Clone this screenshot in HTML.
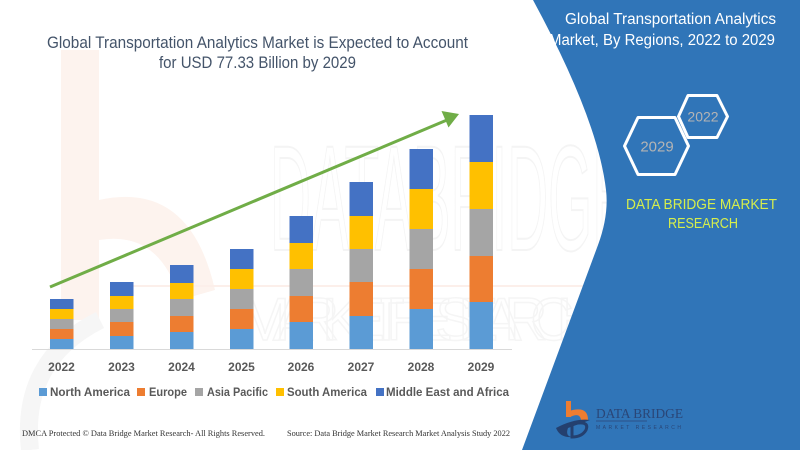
<!DOCTYPE html>
<html>
<head>
<meta charset="utf-8">
<style>
html,body{margin:0;padding:0;background:#fff;}
svg{display:block;}
</style>
</head>
<body>
<svg width="800" height="450" viewBox="0 0 800 450" xmlns="http://www.w3.org/2000/svg">
  <rect x="0" y="0" width="800" height="450" fill="#ffffff"/>

  <!-- faint watermark -->
  <g>
    <rect x="61" y="50" width="38" height="270" fill="#fdf3ee"/>
    <path d="M99,200 Q190,180 215,290 L180,300 Q160,230 99,240 Z" fill="#fdf3ee"/>
    <path d="M30,450 Q20,360 100,320" fill="none" stroke="#f6f6f6" stroke-width="18"/>
    <text x="270" y="250" font-family="Liberation Sans, sans-serif" font-size="150" fill="none" stroke="#f4f4f4" stroke-width="2" textLength="360" lengthAdjust="spacingAndGlyphs">DATABRIDGE</text>
    <line x1="120" y1="286" x2="600" y2="286" stroke="#fcefea" stroke-width="2"/>
    <text x="240" y="340" font-family="Liberation Sans, sans-serif" font-size="60" fill="none" stroke="#f5f5f5" stroke-width="1.5" textLength="360" lengthAdjust="spacing">MARKET RESEARCH</text>
  </g>

  <!-- right blue panel -->
  <path d="M533,0 Q598,120 606,190 Q609,215 598,245 L522,450 L800,450 L800,0 Z" fill="#3075B8"/>

  <!-- title -->
  <g font-family="Liberation Sans, sans-serif" fill="#44546A" font-size="16.5">
    <text x="47" y="48" textLength="421" lengthAdjust="spacingAndGlyphs">Global Transportation Analytics Market is Expected to Account</text>
    <text x="159" y="68" textLength="197" lengthAdjust="spacingAndGlyphs">for USD 77.33 Billion by 2029</text>
  </g>

  <!-- axis line -->
  <line x1="32" y1="349.5" x2="512" y2="349.5" stroke="#D9D9D9" stroke-width="1"/>

  <!-- bars -->
  <g>
    <rect x="50" y="339" width="23.5" height="10" fill="#5B9BD5"/>
    <rect x="50" y="329" width="23.5" height="10" fill="#ED7D31"/>
    <rect x="50" y="319" width="23.5" height="10" fill="#A5A5A5"/>
    <rect x="50" y="309" width="23.5" height="10" fill="#FFC000"/>
    <rect x="50" y="299" width="23.5" height="10" fill="#4472C4"/>
    <rect x="110" y="336" width="23.5" height="13" fill="#5B9BD5"/>
    <rect x="110" y="322" width="23.5" height="14" fill="#ED7D31"/>
    <rect x="110" y="309" width="23.5" height="13" fill="#A5A5A5"/>
    <rect x="110" y="296" width="23.5" height="13" fill="#FFC000"/>
    <rect x="110" y="282" width="23.5" height="14" fill="#4472C4"/>
    <rect x="170" y="332" width="23.5" height="17" fill="#5B9BD5"/>
    <rect x="170" y="316" width="23.5" height="16" fill="#ED7D31"/>
    <rect x="170" y="299" width="23.5" height="17" fill="#A5A5A5"/>
    <rect x="170" y="283" width="23.5" height="16" fill="#FFC000"/>
    <rect x="170" y="265" width="23.5" height="18" fill="#4472C4"/>
    <rect x="230" y="329" width="23.5" height="20" fill="#5B9BD5"/>
    <rect x="230" y="309" width="23.5" height="20" fill="#ED7D31"/>
    <rect x="230" y="289" width="23.5" height="20" fill="#A5A5A5"/>
    <rect x="230" y="269" width="23.5" height="20" fill="#FFC000"/>
    <rect x="230" y="249" width="23.5" height="20" fill="#4472C4"/>
    <rect x="289.5" y="322" width="23.5" height="27" fill="#5B9BD5"/>
    <rect x="289.5" y="296" width="23.5" height="26" fill="#ED7D31"/>
    <rect x="289.5" y="269" width="23.5" height="27" fill="#A5A5A5"/>
    <rect x="289.5" y="243" width="23.5" height="26" fill="#FFC000"/>
    <rect x="289.5" y="216" width="23.5" height="27" fill="#4472C4"/>
    <rect x="349.5" y="316" width="23.5" height="33" fill="#5B9BD5"/>
    <rect x="349.5" y="282" width="23.5" height="34" fill="#ED7D31"/>
    <rect x="349.5" y="249" width="23.5" height="33" fill="#A5A5A5"/>
    <rect x="349.5" y="216" width="23.5" height="33" fill="#FFC000"/>
    <rect x="349.5" y="182" width="23.5" height="34" fill="#4472C4"/>
    <rect x="409.5" y="309" width="23.5" height="40" fill="#5B9BD5"/>
    <rect x="409.5" y="269" width="23.5" height="40" fill="#ED7D31"/>
    <rect x="409.5" y="229" width="23.5" height="40" fill="#A5A5A5"/>
    <rect x="409.5" y="189" width="23.5" height="40" fill="#FFC000"/>
    <rect x="409.5" y="149" width="23.5" height="40" fill="#4472C4"/>
    <rect x="469.5" y="302" width="23.5" height="47" fill="#5B9BD5"/>
    <rect x="469.5" y="256" width="23.5" height="46" fill="#ED7D31"/>
    <rect x="469.5" y="209" width="23.5" height="47" fill="#A5A5A5"/>
    <rect x="469.5" y="162" width="23.5" height="47" fill="#FFC000"/>
    <rect x="469.5" y="115" width="23.5" height="47" fill="#4472C4"/>
  </g>

  <!-- arrow -->
  <line x1="50" y1="287" x2="447" y2="120" stroke="#70AD47" stroke-width="3"/>
  <polygon points="459,114 448.5,127.5 441.5,111" fill="#70AD47"/>

  <!-- year labels -->
  <g font-family="Liberation Sans, sans-serif" font-weight="bold" font-size="12" fill="#595959" text-anchor="middle">
    <text x="61.5" y="371">2022</text>
    <text x="121.5" y="371">2023</text>
    <text x="181.5" y="371">2024</text>
    <text x="241.5" y="371">2025</text>
    <text x="301" y="371">2026</text>
    <text x="361" y="371">2027</text>
    <text x="421" y="371">2028</text>
    <text x="481" y="371">2029</text>
  </g>

  <!-- legend -->
  <g font-family="Liberation Sans, sans-serif" font-weight="bold" font-size="12" fill="#595959">
    <rect x="39" y="388" width="8" height="8" fill="#5B9BD5"/>
    <text x="50" y="396" textLength="80" lengthAdjust="spacingAndGlyphs">North America</text>
    <rect x="137" y="388" width="8" height="8" fill="#ED7D31"/>
    <text x="149" y="396" textLength="38" lengthAdjust="spacingAndGlyphs">Europe</text>
    <rect x="195" y="388" width="8" height="8" fill="#A5A5A5"/>
    <text x="207" y="396" textLength="61" lengthAdjust="spacingAndGlyphs">Asia Pacific</text>
    <rect x="276" y="388" width="8" height="8" fill="#FFC000"/>
    <text x="287" y="396" textLength="80" lengthAdjust="spacingAndGlyphs">South America</text>
    <rect x="376" y="388" width="8" height="8" fill="#4472C4"/>
    <text x="386" y="396" textLength="123" lengthAdjust="spacingAndGlyphs">Middle East and Africa</text>
  </g>

  <!-- footer -->
  <g font-family="Liberation Serif, serif" font-size="8.5" fill="#333333">
    <text x="22" y="436" textLength="243" lengthAdjust="spacingAndGlyphs">DMCA Protected © Data Bridge Market Research- All Rights Reserved.</text>
    <text x="287" y="436" textLength="223" lengthAdjust="spacingAndGlyphs">Source: Data Bridge Market Research Market Analysis Study 2022</text>
  </g>

  <!-- panel texts -->
  <g font-family="Liberation Sans, sans-serif" fill="#ffffff" font-size="15.5">
    <text x="565" y="24" textLength="211" lengthAdjust="spacingAndGlyphs">Global Transportation Analytics</text>
    <text x="549" y="45" textLength="226" lengthAdjust="spacingAndGlyphs">Market, By Regions, 2022 to 2029</text>
  </g>

  <!-- hexagons -->
  <g fill="none" stroke="#ffffff" stroke-width="3" stroke-linejoin="round">
    <polygon points="688,95.5 717,95.5 727.5,116.5 717,137.5 688,137.5 678.5,116.5"/>
    <polygon points="638,117.5 675,117.5 688.5,146 675,174.5 638,174.5 624.5,146"/>
  </g>
  <g font-family="Liberation Sans, sans-serif" fill="#B4B4B4">
    <text x="703" y="121.5" font-size="14" text-anchor="middle">2022</text>
    <text x="657" y="151.5" font-size="15" text-anchor="middle">2029</text>
  </g>

  <g font-family="Liberation Sans, sans-serif" fill="#D6EE4C" font-size="15">
    <text x="626" y="209" textLength="151" lengthAdjust="spacingAndGlyphs">DATA BRIDGE MARKET</text>
    <text x="668" y="228" textLength="70" lengthAdjust="spacingAndGlyphs">RESEARCH</text>
  </g>

  <!-- bottom logo -->
  <g>
    <rect x="566" y="401" width="5" height="16" fill="#ED7D31"/>
    <path d="M566,412 Q588,404 588,420 L581,420 Q580,412 570,417 Z" fill="#ED7D31"/>
    <path d="M556,428 Q575,418 590,420 Q582,423 568,428 Q565,436 572,437 Q560,438 556,428 Z" fill="#24406f"/>
    <path d="M572,424 Q590,420 586,430 Q582,437 572,437 Z" fill="none" stroke="#24406f" stroke-width="3"/>
    <text x="596" y="418" font-family="Liberation Serif, serif" font-size="14" fill="#2a4677" textLength="87" lengthAdjust="spacingAndGlyphs">DATA BRIDGE</text>
    <line x1="596" y1="421" x2="647" y2="421" stroke="#2a4677" stroke-width="0.8"/>
    <text x="596" y="429" font-family="Liberation Sans, sans-serif" font-size="5" fill="#2a4677" textLength="85" lengthAdjust="spacing">MARKET RESEARCH</text>
  </g>
</svg>
</body>
</html>
